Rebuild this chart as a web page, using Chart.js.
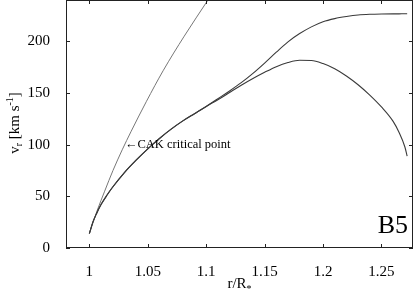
<!DOCTYPE html>
<html>
<head>
<meta charset="utf-8">
<script src="https://cdn.jsdelivr.net/npm/chart.js@4.4.0/dist/chart.umd.min.js"></script>
<style>
  body { margin: 0; background: #fff; }
  #wrap { width: 418px; height: 295px; }
</style>
</head>
<body>
<div id="wrap"><canvas id="windChart" width="418" height="295"></canvas></div>
<script>
// radius (r/R*) and velocity (km/s)
const rInner = [1.000, 1.003, 1.006, 1.010, 1.015, 1.020, 1.030, 1.040, 1.050, 1.060, 1.070, 1.080, 1.090, 1.100];
const vInner = [14, 25, 33, 42, 51, 59, 73, 85, 96, 106, 115, 123, 130, 137];

// the two solutions split after r ~ 1.1
const rOuter = [1.11, 1.12, 1.13, 1.14, 1.15, 1.16, 1.17, 1.18, 1.19, 1.20, 1.21, 1.22, 1.23, 1.24, 1.25, 1.26, 1.265, 1.27, 1.272];
const vAccel = [144.5, 152, 160, 169, 179, 189.5, 199.5, 207.5, 214, 219, 222, 224, 225.5, 226.2, 226.5, 226.6, 226.6, 226.7, 226.7];
const vDecel = [143.5, 150.5, 157.5, 164, 170, 175.5, 179.5, 181.7, 181.5, 178.5, 173.5, 166.5, 158, 148, 136.5, 122.5, 112, 98, 89];

// steep curve through the CAK critical point
const rSteep = [1.000, 1.0066, 1.0131, 1.0202, 1.0281, 1.0358, 1.0489, 1.0631, 1.0812, 1.1015];
const vSteep = [14, 36, 55, 75, 95, 113, 142, 171.5, 205, 240];

const xTickStep = 0.05;
const yTickStep = 50;
const cakLabel = { r: 1.0305, v: 100, text: '\u2190CAK critical point' };
const panelLabel = 'B5';

const toPoints = (rs, vs) => rs.map((r, i) => ({ x: r, y: vs[i] }));

const serif = '"Liberation Serif", "DejaVu Serif", serif';

// frame with inward ticks on all sides, axis titles and the labels
const framePlugin = {
    id: 'frame',
    afterDraw(chart) {
        const { ctx, chartArea: a, scales: { x, y } } = chart;
        ctx.save();
        ctx.strokeStyle = '#222';
        ctx.lineWidth = 1;
        ctx.strokeRect(a.left + 0.5, a.top + 0.5, a.right - a.left - 1, a.bottom - a.top - 1);

        ctx.beginPath();
        x.ticks.forEach(t => {
            const px = Math.round(x.getPixelForValue(t.value)) + 0.5;
            ctx.moveTo(px, a.bottom); ctx.lineTo(px, a.bottom - 4);
            ctx.moveTo(px, a.top); ctx.lineTo(px, a.top + 4);
        });
        y.ticks.forEach(t => {
            const py = Math.round(y.getPixelForValue(t.value)) + 0.5;
            ctx.moveTo(a.left, py); ctx.lineTo(a.left + 4, py);
            ctx.moveTo(a.right, py); ctx.lineTo(a.right - 4, py);
        });
        ctx.stroke();

        ctx.fillStyle = '#000';

        // CAK critical point note
        ctx.font = '12.5px ' + serif;
        ctx.textAlign = 'left';
        ctx.textBaseline = 'middle';
        ctx.fillText(cakLabel.text, x.getPixelForValue(cakLabel.r), y.getPixelForValue(cakLabel.v));

        // panel label
        ctx.font = '26px ' + serif;
        ctx.textAlign = 'right';
        ctx.textBaseline = 'alphabetic';
        ctx.fillText(panelLabel, a.right - 5, a.bottom - 15);

        // x title: r/R*
        ctx.textAlign = 'left';
        const big = '15px ' + serif, small = '10px ' + serif;
        ctx.font = big;
        const wMain = ctx.measureText('r/R').width;
        ctx.font = small;
        const wSub = ctx.measureText('*').width;
        let tx = (a.left + a.right) / 2 - (wMain + wSub) / 2;
        const ty = 288;
        ctx.font = big;
        ctx.fillText('r/R', tx, ty);
        ctx.font = small;
        ctx.fillText('*', tx + wMain, ty + 4);

        // y title: v_r [km s^-1], rotated
        const parts = [
            { t: 'v', f: big, dy: 0 },
            { t: 'r', f: small, dy: 3 },
            { t: ' [km s', f: big, dy: 0 },
            { t: '-1', f: small, dy: -6 },
            { t: ']', f: big, dy: 0 }
        ];
        let total = 0;
        parts.forEach(p => { ctx.font = p.f; p.w = ctx.measureText(p.t).width; total += p.w; });
        ctx.translate(19, 123);
        ctx.rotate(-Math.PI / 2);
        let cx = -total / 2;
        parts.forEach(p => {
            ctx.font = p.f;
            ctx.fillText(p.t, cx, p.dy);
            cx += p.w;
        });
        ctx.restore();
    }
};

const lineStyle = {
    showLine: true,
    pointRadius: 0,
    borderWidth: 1.1,
    cubicInterpolationMode: 'monotone',
    fill: false
};

new Chart(document.getElementById('windChart'), {
    type: 'scatter',
    data: {
        datasets: [
            { ...lineStyle, label: 'accelerating', data: toPoints(rInner.concat(rOuter), vInner.concat(vAccel)), borderColor: '#3a3a3a' },
            { ...lineStyle, label: 'decelerating', data: toPoints(rInner.concat(rOuter), vInner.concat(vDecel)), borderColor: '#3a3a3a' },
            { ...lineStyle, label: 'steep', borderWidth: 1, data: toPoints(rSteep, vSteep), borderColor: '#777' }
        ]
    },
    options: {
        responsive: false,
        animation: false,
        layout: { padding: { top: 0, right: 5, left: 0, bottom: 0 } },
        plugins: {
            legend: { display: false },
            tooltip: { enabled: false }
        },
        scales: {
            x: {
                type: 'linear',
                min: 0.98,
                max: 1.277,
                grid: { display: false },
                border: { display: false },
                ticks: {
                    stepSize: xTickStep,
                    includeBounds: false,
                    maxRotation: 0,
                    padding: 7,
                    color: '#000',
                    font: { family: serif, size: 15 },
                    callback: v => String(+v.toFixed(2))
                },
                afterFit: s => {
                    s.height = 47;
                    s.paddingLeft = 0;
                    s.paddingRight = 0;
                }
            },
            y: {
                type: 'linear',
                min: 0,
                max: 240,
                grid: { display: false },
                border: { display: false },
                ticks: {
                    stepSize: yTickStep,
                    includeBounds: false,
                    padding: 8,
                    color: '#000',
                    font: { family: serif, size: 15 }
                },
                afterFit: s => {
                    s.width = 66;
                    s.paddingTop = 0;
                    s.paddingBottom = 0;
                }
            }
        }
    },
    plugins: [framePlugin]
});
</script>
</body>
</html>
